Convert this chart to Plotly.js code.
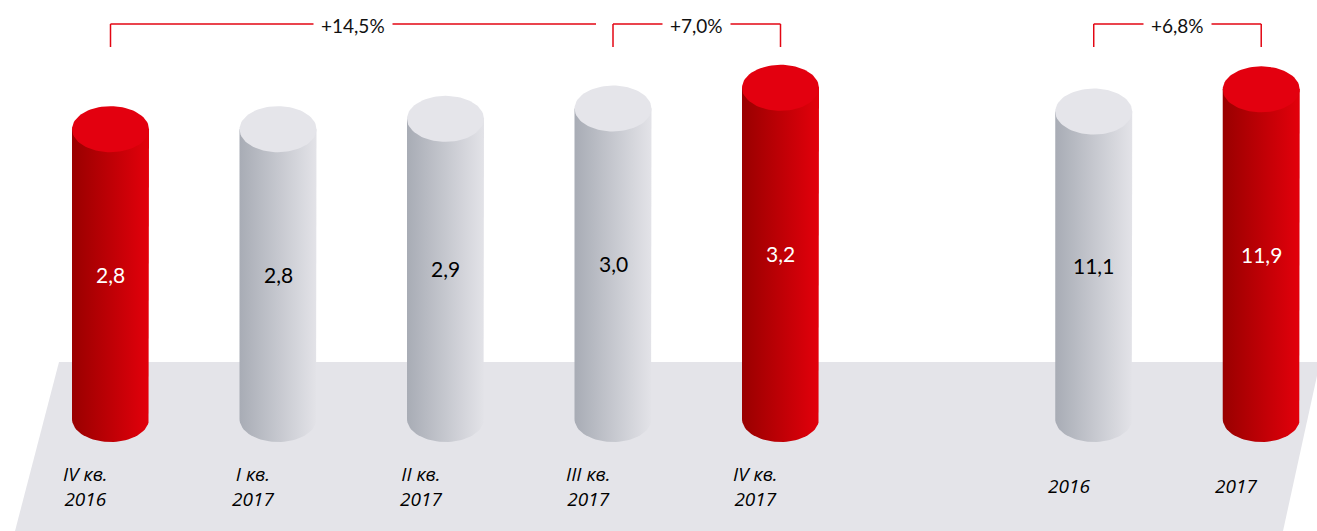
<!DOCTYPE html>
<html>
<head>
<meta charset="utf-8">
<script src="https://cdn.plot.ly/plotly-3.0.1.min.js"></script>
<style>html,body{margin:0;padding:0;background:#fff;}#chart{width:1317px;height:531px;}</style>
</head>
<body>
<div id="chart"></div>
<script>
// ---- data ----
var quarterLabels = ['IV кв.<br>2016', 'I кв.<br>2017', 'II кв.<br>2017', 'III кв.<br>2017', 'IV кв.<br>2017'];
var quarterValues = [2.8, 2.8, 2.9, 3.0, 3.2];
var quarterHighlight = [true, false, false, false, true];
var yearLabels = ['2016', '2017'];
var yearValues = [11.1, 11.9];
var yearHighlight = [false, true];
var growthLabels = ['+14,5%', '+7,0%', '+6,8%'];
var growthFrom = [['q', 0], ['q', 3], ['a', 0]];
var growthTo = [['q', 4], ['q', 4], ['a', 1]];

// ---- geometry / style ----
var W = 1317, H = 531;
var x0px = 110.5, unitPx = 167.5;      // pixel of first bar, spacing
var basePx = 419;                      // baseline pixel (from top)
var qPxPerUnit = 103.5, aPxPerUnit = 27.7;
var groupGap = 1.87;
var halfW = 38.5 / unitPx;
var ryPx = 23;
var RED = {top: '#e3000f', scale: [[0, '#990000'], [1, '#e3000b']], text: '#ffffff'};
var GREY = {top: '#e5e5ea', scale: [[0, '#a8acb5'], [1, '#e3e3e8']], text: '#000000'};
var FONT = 'Lato, "Open Sans", sans-serif';
var ITALIC_FONT = '"Open Sans", "Noto Sans", sans-serif';

function posOf(group, i) {
  return group === 'q' ? i : (quarterValues.length - 1 + groupGap + i);
}

var traces = [];
var annotations = [];
var shapes = [];

function addCylinder(xc, v, yaxis, pxPerUnit, style) {
  var ry = ryPx / pxPerUnit;
  var bx = [xc - halfW, xc - halfW, xc + halfW, xc + halfW];
  var by = [0, v, v, 0];
  var n = 40, k;
  for (k = 0; k <= n; k++) {
    var t = Math.PI * k / n;
    bx.push(xc + halfW * Math.cos(t));
    by.push(-ry * Math.sin(t));
  }
  traces.push({
    type: 'scatter', mode: 'lines', x: bx, y: by, yaxis: yaxis,
    fill: 'toself', line: {width: 0, color: 'rgba(0,0,0,0)'},
    fillgradient: {type: 'horizontal', colorscale: style.scale},
    hoverinfo: 'skip', showlegend: false
  });
  var tx = [], ty = [];
  for (k = 0; k <= 80; k++) {
    var a = 2 * Math.PI * k / 80;
    tx.push(xc + halfW * Math.cos(a));
    ty.push(v + ry * Math.sin(a));
  }
  traces.push({
    type: 'scatter', mode: 'lines', x: tx, y: ty, yaxis: yaxis,
    fill: 'toself', fillcolor: style.top, line: {width: 0, color: 'rgba(0,0,0,0)'},
    hoverinfo: 'skip', showlegend: false
  });
}

function fmt(v) { return v.toFixed(1).replace('.', ','); }

function addBarSet(group, labels, values, highlight, yaxis, yref, pxPerUnit) {
  for (var i = 0; i < values.length; i++) {
    var xc = posOf(group, i);
    var st = highlight[i] ? RED : GREY;
    addCylinder(xc, values[i], yaxis, pxPerUnit, st);
    annotations.push({
      x: xc, y: values[i] / 2, xref: 'x', yref: yref, text: fmt(values[i]),
      showarrow: false, font: {family: FONT, size: 21, color: st.text, weight: 400}
    });
    annotations.push({
      x: xc - 25 / unitPx, y: 1 - 486 / H, xref: 'x', yref: 'paper', text: labels[i],
      showarrow: false, align: 'center', xanchor: 'center', yanchor: 'middle',
      font: {family: ITALIC_FONT, size: 19, color: '#000000', style: 'italic', weight: 400}
    });
  }
}

addBarSet('q', quarterLabels, quarterValues, quarterHighlight, 'y', 'y', qPxPerUnit);
addBarSet('a', yearLabels, yearValues, yearHighlight, 'y2', 'y2', aPxPerUnit);

// floor
function px(xp) { return (xp / W).toFixed(4); }
function py(yp) { return (1 - yp / H).toFixed(4); }
shapes.push({
  type: 'path', xref: 'paper', yref: 'paper', layer: 'below',
  path: 'M' + px(59) + ',' + py(362) + ' L' + px(1320) + ',' + py(362) + ' L' + px(1283) + ',' + py(531) + ' L' + px(15) + ',' + py(531) + ' Z',
  fillcolor: '#e4e4e9', line: {width: 0}
});

// growth brackets
var lineY = 1 - 24 / H, tickY = 1 - 47 / H;
var bracketColor = '#e30613';
for (var b = 0; b < growthLabels.length; b++) {
  var xs = posOf(growthFrom[b][0], growthFrom[b][1]);
  var xe = posOf(growthTo[b][0], growthTo[b][1]);
  var visEnd = xe;
  var hasRightTick = true;
  for (var c = 0; c < growthLabels.length; c++) {
    if (c === b) continue;
    var cs = posOf(growthFrom[c][0], growthFrom[c][1]);
    if (cs > xs && cs < xe) { visEnd = Math.min(visEnd, cs - 17 / unitPx); hasRightTick = false; }
  }
  shapes.push({type: 'line', xref: 'x', yref: 'paper', x0: xs, x1: visEnd, y0: lineY, y1: lineY,
    line: {color: bracketColor, width: 1.5}, layer: 'above'});
  shapes.push({type: 'line', xref: 'x', yref: 'paper', x0: xs, x1: xs, y0: lineY, y1: tickY,
    line: {color: bracketColor, width: 1.5}, layer: 'above'});
  if (hasRightTick) {
    shapes.push({type: 'line', xref: 'x', yref: 'paper', x0: xe, x1: xe, y0: lineY, y1: tickY,
      line: {color: bracketColor, width: 1.5}, layer: 'above'});
  }
  annotations.push({
    x: (xs + visEnd) / 2, y: 1 - 26 / H, xref: 'x', yref: 'paper', text: growthLabels[b],
    showarrow: false, bgcolor: '#ffffff', borderpad: 7, xanchor: 'center', yanchor: 'middle',
    font: {family: FONT, size: 19, color: '#111111'}
  });
}

var layout = {
  width: W, height: H,
  margin: {l: 0, r: 0, t: 0, b: 0},
  paper_bgcolor: '#ffffff', plot_bgcolor: 'rgba(0,0,0,0)',
  showlegend: false,
  xaxis: {range: [-x0px / unitPx, (W - x0px) / unitPx], visible: false, fixedrange: true},
  yaxis: {range: [-(H - basePx) / qPxPerUnit, basePx / qPxPerUnit], visible: false, fixedrange: true},
  yaxis2: {range: [-(H - basePx) / aPxPerUnit, basePx / aPxPerUnit], visible: false, overlaying: 'y', fixedrange: true},
  shapes: shapes,
  annotations: annotations
};

Plotly.newPlot('chart', traces, layout, {staticPlot: true, displayModeBar: false});
</script>
</body>
</html>
